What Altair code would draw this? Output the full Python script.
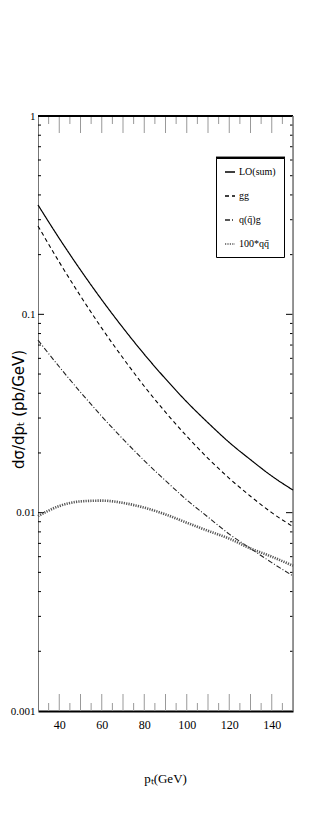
import altair as alt
import pandas as pd

# ---- data ----
pT = [30, 40, 50, 60, 70, 80, 90, 100, 110, 120, 130, 140, 150]
lo_sum = [0.356, 0.2415, 0.1674, 0.1184, 0.0855, 0.0629, 0.0473, 0.0362, 0.0284, 0.0226, 0.0185, 0.0153, 0.0130]
gg = [0.279, 0.1834, 0.1237, 0.0852, 0.0602, 0.0434, 0.0321, 0.0243, 0.0188, 0.0149, 0.0121, 0.0100, 0.0085]
qg = [0.0741, 0.0544, 0.0405, 0.0306, 0.0235, 0.0183, 0.0145, 0.0116, 0.0095, 0.0078, 0.0066, 0.0056, 0.0048]
qq100 = [0.0096, 0.0108, 0.0114, 0.0115, 0.0112, 0.0106, 0.0098, 0.0089, 0.0081, 0.0074, 0.0066, 0.0060, 0.0054]

series_names = ["LO(sum)", "gg", "q(q\u0304)g", "100*qq\u0304"]
series_values = [lo_sum, gg, qg, qq100]
series_widths = [1.2, 1.1, 1.1, 2.6]

x_major = [40, 50, 60, 70, 80, 90, 100, 110, 120, 130, 140]
x_minor = [35, 45, 55, 65, 75, 85, 95, 105, 115, 125, 135, 145]
y_labels = [0.001, 0.01, 0.1, 1]
y_major = [0.01, 0.1]
y_minor = [m * 10.0 ** e for e in (-3, -2, -1) for m in range(2, 10)]

W, H = 255, 595

rows = []
for name, vals, w in zip(series_names, series_values, series_widths):
    for x, v in zip(pT, vals):
        rows.append({"pT": x, "sigma": v, "series": name, "w": w})
df = pd.DataFrame(rows)

xscale = alt.Scale(domain=[30, 150], nice=False, zero=False)
yscale = alt.Scale(type="log", domain=[0.001, 1], nice=False)

serif = "Liberation Serif"

lines = alt.Chart(df).mark_line(interpolate="monotone").encode(
    x=alt.X("pT:Q", scale=xscale,
            axis=alt.Axis(values=x_major, ticks=False, grid=False, domainColor="black",
                          domainWidth=2, labelFont=serif, labelFontSize=12, labelColor="black",
                          labelPadding=8, title="p\u209c(GeV)", titleFont=serif,
                          titleFontSize=13, titleFontWeight="normal", titleColor="black",
                          titleX=127, titleY=67, titleBaseline="middle", titleAlign="center")),
    y=alt.Y("sigma:Q", scale=yscale,
            axis=alt.Axis(values=y_labels, format="~g", ticks=False, grid=False,
                          domainColor="#777", domainWidth=1, labelFont=serif,
                          labelFontSize=11, labelColor="black", labelPadding=3,
                          title="d\u03c3/dp\u209c (pb/GeV)", titleFont="DejaVu Sans",
                          titleFontSize=15, titleFontWeight="normal", titleColor="black",
                          titleX=-20, titleY=293, titleAngle=270, titleAlign="center",
                          titleBaseline="middle")),
    color=alt.Color("series:N", sort=series_names,
                    scale=alt.Scale(domain=series_names, range=["black", "black", "#222", "#555"]),
                    legend=alt.Legend(title=None, orient="none", legendX=178, legendY=42,
                                      strokeColor="black", fillColor="white", padding=8,
                                      symbolType="stroke", symbolSize=100, labelFont=serif,
                                      labelFontSize=10, labelColor="black", rowPadding=13,
                                      labelOffset=3)),
    strokeDash=alt.StrokeDash("series:N", sort=series_names,
                              scale=alt.Scale(domain=series_names,
                                              range=[[1, 0], [4, 3], [5, 2, 1, 2], [1.2, 1.2]]),
                              legend=alt.Legend(title=None)),
    strokeWidth=alt.StrokeWidth("w:Q", scale=None, legend=None),
)

def xt(vals, y0, y1, color="#999", w=1):
    d = pd.DataFrame({"pT": vals})
    return alt.Chart(d).mark_rule(color=color, strokeWidth=w).encode(
        x=alt.X("pT:Q", scale=xscale), y=alt.value(y0), y2=alt.value(y1))

def yt(vals, x0, x1, color="black", w=1):
    d = pd.DataFrame({"sigma": vals})
    return alt.Chart(d).mark_rule(color=color, strokeWidth=w).encode(
        y=alt.Y("sigma:Q", scale=yscale), x=alt.value(x0), x2=alt.value(x1))

ticks = [
    xt(x_major, H, H - 17), xt(x_minor, H, H - 8),
    xt(x_major, 0, 17), xt(x_minor, 0, 8),
    yt(y_major, 0, 6), yt(y_minor, 0, 3),
    yt(y_major, W, W - 7), yt(y_minor, W, W - 3),
]

frame_df = pd.DataFrame({"pT": [30, 150]})
top_rule = alt.Chart(frame_df).mark_rule(color="black", strokeWidth=2).encode(
    x=alt.value(0), x2=alt.value(W), y=alt.value(0))
right_rule = alt.Chart(frame_df).mark_rule(color="#777", strokeWidth=1).encode(
    x=alt.value(W), y=alt.value(0), y2=alt.value(H))
legend_top = alt.Chart(frame_df).mark_rule(color="black", strokeWidth=2.5).encode(
    x=alt.value(178), x2=alt.value(247), y=alt.value(42))

chart = alt.layer(*ticks, top_rule, right_rule, lines, legend_top).properties(
    width=W, height=H,
    autosize=alt.AutoSizeParams(type="none"),
    padding={"left": 30, "top": 108, "right": 20, "bottom": 120},
).configure_view(stroke=None).configure(background="white")

chart.save("out.html", embed_options={"renderer": "svg", "actions": False})
